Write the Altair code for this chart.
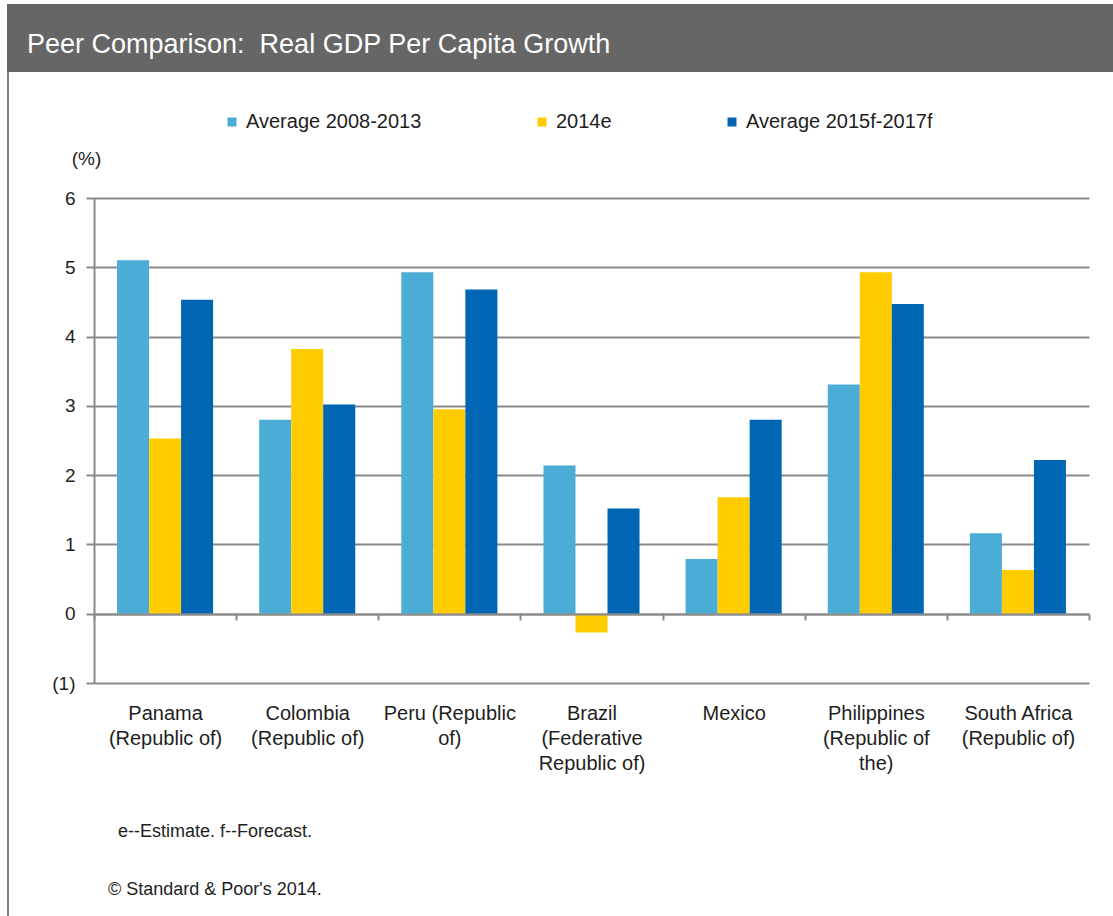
import altair as alt
import pandas as pd

# Category labels ("|" marks a line break in the axis label)
countries = [
    "Panama|(Republic of)",
    "Colombia|(Republic of)",
    "Peru (Republic|of)",
    "Brazil|(Federative|Republic of)",
    "Mexico",
    "Philippines|(Republic of|the)",
    "South Africa|(Republic of)",
]
series = ["Average 2008-2013", "2014e", "Average 2015f-2017f"]

# Real GDP per capita growth, %
avg_2008_2013 = [5.10, 2.80, 4.93, 2.14, 0.79, 3.31, 1.16]
est_2014 = [2.53, 3.82, 2.95, -0.27, 1.68, 4.93, 0.63]
avg_2015_2017 = [4.53, 3.02, 4.68, 1.52, 2.80, 4.47, 2.22]

y_ticks = [-1, 0, 1, 2, 3, 4, 5, 6]
colors = ["#4BACD6", "#FFCC00", "#0066B3"]

title_text = "Peer Comparison:\u00a0 Real GDP Per Capita Growth"
note_text = "e--Estimate. f--Forecast."
source_text = "\u00a9 Standard & Poor's 2014."

rows = []
for name, vals in zip(series, [avg_2008_2013, est_2014, avg_2015_2017]):
    for c, v in zip(countries, vals):
        rows.append({"country": c, "series": name, "value": v})
df = pd.DataFrame(rows)

FONT = "Liberation Sans, Arial, sans-serif"
GRID = "#8a8a8a"
TEXT = "#1e1e1e"

W, H = 995, 485
PAD_L, PAD_T, PAD_R, PAD_B = 94, 198, 24, 233

bars = alt.Chart(df).mark_bar().encode(
    x=alt.X(
        "country:N",
        sort=countries,
        title=None,
        scale=alt.Scale(paddingInner=0, paddingOuter=0),
        axis=alt.Axis(
            orient="bottom",
            offset=-69,
            domainColor=GRID,
            domainWidth=2,
            tickColor=GRID,
            tickWidth=2,
            tickSize=6,
            tickBand="extent",
            labelAngle=0,
            labelPadding=83,
            labelBaseline="top",
            labelFont=FONT,
            labelFontSize=20,
            labelColor=TEXT,
            labelLineHeight=25,
            labelExpr="split(datum.label, '|')",
            zindex=1,
        ),
    ),
    # bars of a group touch each other; the group sits centred in its category
    xOffset=alt.XOffset(
        "series:N", sort=series, scale=alt.Scale(paddingInner=0, paddingOuter=0.72)
    ),
    y=alt.Y(
        "value:Q",
        scale=alt.Scale(domain=[-1, 6], nice=False, zero=False),
        axis=alt.Axis(
            values=y_ticks,
            title="(%)",
            titleAngle=0,
            titleX=-8,
            titleY=-40,
            titleAlign="center",
            titleBaseline="middle",
            titleFont=FONT,
            titleFontSize=19,
            titleFontWeight="normal",
            titleColor=TEXT,
            labelExpr="datum.value < 0 ? '(' + abs(datum.value) + ')' : datum.value",
            labelFont=FONT,
            labelFontSize=19,
            labelColor=TEXT,
            labelPadding=11,
            domainColor=GRID,
            domainWidth=2,
            tickColor=GRID,
            tickWidth=2,
            tickSize=8,
            grid=True,
            gridColor=GRID,
            gridWidth=2,
        ),
    ),
    color=alt.Color(
        "series:N",
        sort=series,
        scale=alt.Scale(domain=series, range=colors),
        legend=alt.Legend(
            title=None,
            orient="none",
            legendX=128,
            legendY=-86,
            direction="horizontal",
            symbolType="square",
            symbolSize=81,
            symbolStrokeWidth=0,
            symbolOpacity=1,
            labelFont=FONT,
            labelFontSize=20,
            labelColor=TEXT,
            labelOffset=4,
            labelLimit=0,
            columnPadding=110,
        ),
    ),
)

one = pd.DataFrame({"k": [0]})

# Header band with the chart title
header = alt.Chart(one).mark_rect(color="#666666").encode(
    x=alt.value(-87), x2=alt.value(W + PAD_R), y=alt.value(-194), y2=alt.value(-126)
)
header_text = alt.Chart(one).mark_text(
    align="left", baseline="alphabetic", font=FONT, fontSize=27, color="white"
).encode(x=alt.value(-67), y=alt.value(-145), text=alt.value(title_text))

# Left frame line
frame = alt.Chart(one).mark_rule(color="#808080", strokeWidth=2).encode(
    x=alt.value(-86), y=alt.value(-126), y2=alt.value(H + PAD_B)
)

note = alt.Chart(one).mark_text(
    align="left", baseline="alphabetic", font=FONT, fontSize=18, color=TEXT
).encode(x=alt.value(24), y=alt.value(639), text=alt.value(note_text))
source = alt.Chart(one).mark_text(
    align="left", baseline="alphabetic", font=FONT, fontSize=18, color=TEXT
).encode(x=alt.value(14), y=alt.value(697), text=alt.value(source_text))

chart = (
    alt.layer(header, header_text, frame, bars, note, source)
    .properties(
        width=W,
        height=H,
        background="white",
        padding={"left": PAD_L, "top": PAD_T, "right": PAD_R, "bottom": PAD_B},
        autosize=alt.AutoSizeParams(type="none"),
    )
    .configure_view(stroke=None)
)

chart.save("out.html", embed_options={"renderer": "svg", "actions": False})
